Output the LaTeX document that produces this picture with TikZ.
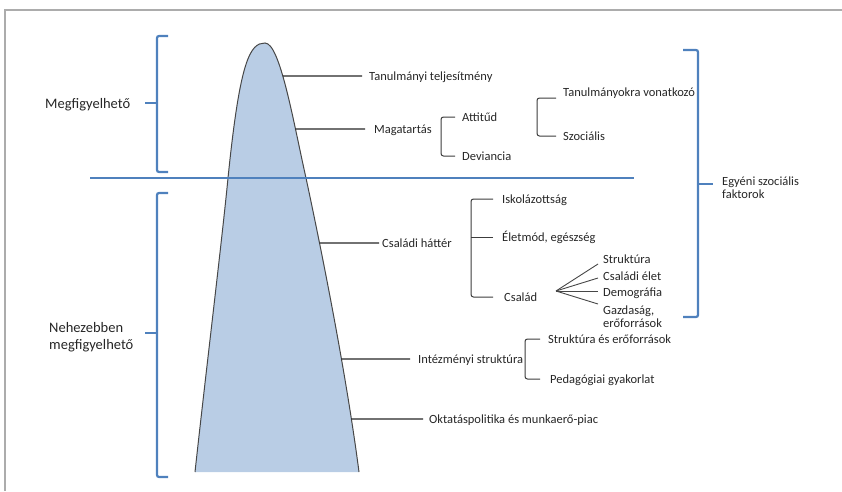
\documentclass[tikz,border=0pt]{standalone}
\usepackage{fontspec}
\setmainfont{Carlito}
\usetikzlibrary{intersections}
\definecolor{obl}{HTML}{4F81BD}
\definecolor{ofill}{HTML}{B9CDE5}
\definecolor{txt}{HTML}{262626}
\begin{document}
\begin{tikzpicture}[x=1pt,y=-1pt,
  lbl/.style={font=\fontsize{12.5}{13}\selectfont, text=txt, inner sep=0pt, anchor=west, text height=8pt, text depth=0pt},
  mlbl/.style={font=\fontsize{12.5}{13}\selectfont, text=txt, inner sep=0pt, anchor=west, align=left},
  big/.style={font=\fontsize{14.5}{17.5}\selectfont, text=txt, inner sep=0pt, anchor=west, align=left},
  con/.style={draw=txt, line width=1.1pt},
  fan/.style={draw=txt!85, line width=0.9pt},
  brk/.style={draw=txt!90, line width=1pt, rounded corners=2.5pt},
  bb/.style={draw=obl, line width=2.2pt, rounded corners=2pt}]
\useasboundingbox (0,0) rectangle (842,491);
% frame
\draw[gray!65, line width=1.2pt] (5,491) -- (5,10) -- (842,10);
% mountain
\fill[ofill] (195,472) .. controls (205,380) and (222,240) .. (228,178)
  .. controls (240,60) and (250,43) .. (265,43)
  .. controls (280,43) and (293,120) .. (306,178)
  .. controls (321,248) and (346,372) .. (359,472) -- cycle;
\draw[name path=mountain, draw=txt!85, line width=1pt] (195,472) .. controls (205,380) and (222,240) .. (228,178)
  .. controls (240,60) and (250,43) .. (265,43)
  .. controls (280,43) and (293,120) .. (306,178)
  .. controls (321,248) and (346,372) .. (359,472);
\foreach \n/\yy in {e1/76, e2/129, e3/243, e4/359, e5/419}{
  \path[name path=hh] (266,\yy) -- (600,\yy);
  \path[name intersections={of=mountain and hh, by=\n}];
}
% labels
\node[lbl] (tt) at (369,76) {Tanulmányi teljesítmény};
\node[lbl] (mag) at (374,129) {Magatartás};
\node[lbl] (att) at (462,117) {Attitűd};
\node[lbl] (dev) at (462,156) {Deviancia};
\node[lbl] (tv) at (563,92) {Tanulmányokra vonatkozó};
\node[lbl] (szoc) at (563,136) {Szociális};
\node[lbl] (csh) at (382,243) {Családi háttér};
\node[lbl] (isk) at (502,199) {Iskolázottság};
\node[lbl] (elet) at (502,237) {Életmód, egészség};
\node[lbl] (csal) at (504,297) {Család};
\node[lbl] (str) at (603,259) {Struktúra};
\node[lbl] (cse) at (603,276) {Családi élet};
\node[lbl] (dem) at (603,292) {Demográfia};
\node[mlbl] (gaz) at (603,317) {Gazdaság,\\erőforrások};
\node[lbl] (intz) at (418,359) {Intézményi struktúra};
\node[lbl] (sef) at (548,339) {Struktúra és erőforrások};
\node[lbl] (ped) at (550,379) {Pedagógiai gyakorlat};
\node[lbl] (okt) at (429,419) {Oktatáspolitika és munkaerő-piac};
\node[big, text height=10pt, text depth=0pt] (megf) at (45,103) {Megfigyelhető};
\node[big] (neh) at (49,337) {Nehezebben\\megfigyelhető};
\node[mlbl] (egy) at (722,188) {Egyéni szociális\\faktorok};
% connectors from the mountain
\draw[con] (e1) -- ([xshift=-7pt]tt.west);
\draw[con] (e2) -- ([xshift=-9pt]mag.west);
\draw[con] (e3) -- ([xshift=-3pt]csh.west);
\draw[con] (e4) -- ([xshift=-8pt]intz.west);
\draw[con] (e5) -- ([xshift=-6pt]okt.west);
% brackets
\draw[brk] ([xshift=-7pt]att.west) -- ++(-14,0) |- ([xshift=-7pt]dev.west);
\draw[brk] ([shift={(-7pt,-6pt)}]tv.west) -- ++(-19,0) |- ([xshift=-7pt]szoc.west);
\draw[brk] ([xshift=-9pt]isk.west) -- ++(-22,0) |- ([xshift=-11pt]csal.west);
\draw[brk] ([xshift=-9pt]elet.west) -- ++(-22,0);
\draw[brk] ([xshift=-8pt]sef.west) -- ++(-15,0) |- ([xshift=-10pt]ped.west);
% fan
\coordinate (fo) at (556,291);
\coordinate (f1) at (598,264);
\coordinate (f2) at (598,278);
\coordinate (f3) at (598,291);
\coordinate (f4) at (598,304);
\foreach \f in {f1,f2,f3,f4} \draw[fan] (fo) -- (\f);
% blue elements
\draw[obl, line width=1.6pt] (90,178) -- (634,178);
\draw[bb] (168,36) -- (157,36) -- (157,172) -- (168,172);
\draw[bb] (157,103) -- (145,103);
\draw[bb] (168,193) -- (157,193) -- (157,477) -- (168,477);
\draw[bb] (157,333) -- (145,333);
\draw[bb] (683,50) -- (698,50) -- (698,317) -- (683,317);
\draw[bb] (698,184) -- (713,184);
\end{tikzpicture}
\end{document}
